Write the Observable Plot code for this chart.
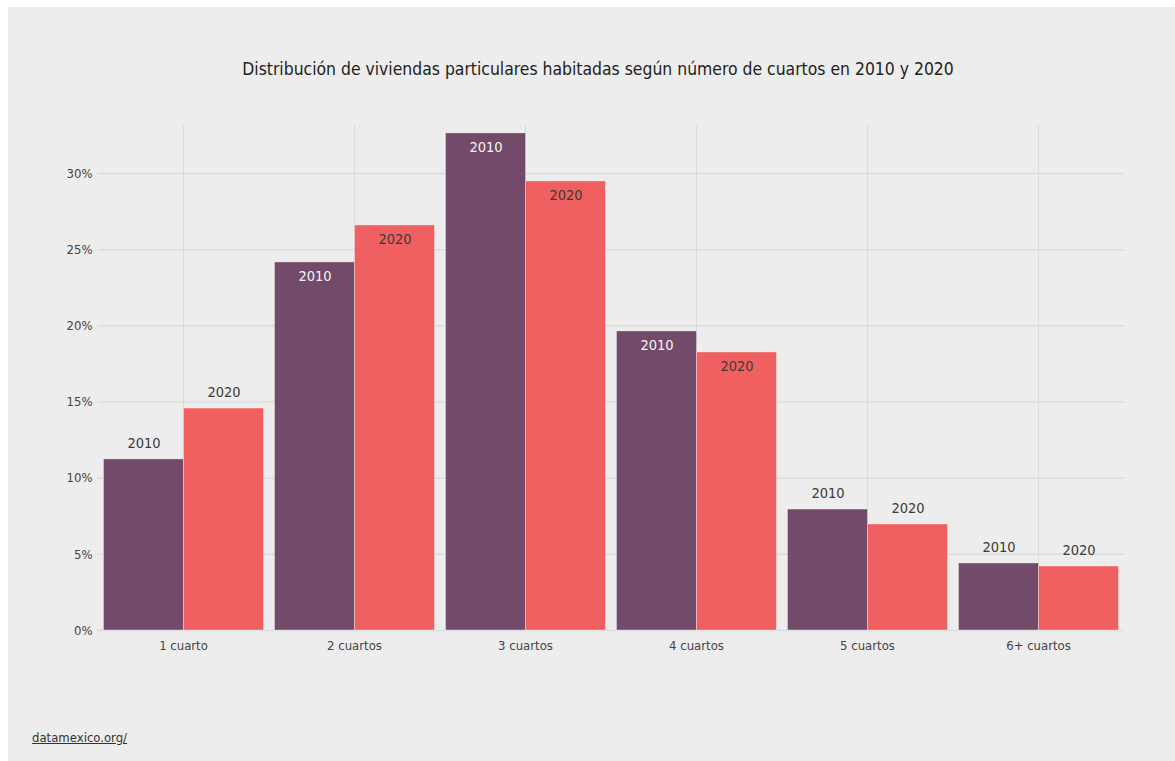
<!DOCTYPE html>
<html>
<head>
<meta charset="utf-8">
<script src="https://cdn.jsdelivr.net/npm/d3@7"></script>
<script src="https://cdn.jsdelivr.net/npm/@observablehq/plot@0.6"></script>
<style>
  html, body { margin: 0; padding: 0; background: #ffffff; width: 1175px; height: 761px; overflow: hidden; }
  #panel { position: absolute; left: 8px; top: 7px; width: 1167px; height: 754px; background: #ededed; }
  .cf { font-family: "Liberation Sans Narrow", "DejaVu Sans Condensed", "Roboto Condensed", "Roboto", sans-serif; font-stretch: condensed; }
  #title { position: absolute; left: 0; width: 1180px; top: 50px; line-height: 24px; text-align: center; font-size: 17.4px; color: #222; }
  #chart { position: absolute; left: 0; top: 100px; }
  #caption { position: absolute; left: 24px; top: 722px; line-height: 18px; font-size: 13px; color: #333; text-decoration: underline; }
</style>
</head>
<body>
<div id="panel">
  <div id="title" class="cf">Distribución de viviendas particulares habitadas según número de cuartos en 2010 y 2020</div>
  <div id="chart"></div>
  <div id="caption" class="cf">datamexico.org/</div>
</div>
<script>
const categories = ["1 cuarto", "2 cuartos", "3 cuartos", "4 cuartos", "5 cuartos", "6+ cuartos"];
const years = ["2010", "2020"];
const values2010 = [11.23, 24.16, 32.63, 19.63, 7.94, 4.40];
const values2020 = [14.57, 26.59, 29.48, 18.25, 6.96, 4.20];
const yTicks = [0, 5, 10, 15, 20, 25, 30];
const yearColors = ["#734a6a", "#f06060"];

const rows = [];
categories.forEach((c, i) => {
  rows.push({cat: c, year: years[0], value: values2010[i]});
  rows.push({cat: c, year: years[1], value: values2020[i]});
});
const inside = rows.filter(d => d.value >= 16);
const outside = rows.filter(d => d.value < 16);

const fontFamily = '"Liberation Sans Narrow", "DejaVu Sans Condensed", "Roboto Condensed", "Roboto", sans-serif';

const chart = Plot.plot({
  width: 1167,
  height: 560,
  marginLeft: 89.5,
  marginRight: 51.5,
  marginTop: 18,
  marginBottom: 37,
  style: {background: "transparent", fontFamily, fontSize: "13px", color: "#444", fontStretch: "condensed"},
  fx: {domain: categories, paddingInner: 0.064, paddingOuter: 0.032, label: null, tickSize: 0, tickPadding: 10, grid: true},
  x: {domain: years, axis: null, padding: 0},
  y: {domain: [0, 33.15], ticks: yTicks, tickFormat: d => d + "%", label: null, tickSize: 0, tickPadding: 11},
  color: {domain: years, range: yearColors},
  marks: [
    Plot.ruleY(yTicks, {stroke: "#dcdcdc", strokeWidth: 1.5, insetLeft: -5.5, insetRight: -5.5}),
    Plot.barY(rows, {fx: "cat", x: "year", y: "value", fill: "year", stroke: "#ffffff", strokeOpacity: 0.35, strokeWidth: 1}),
    Plot.text(inside, {fx: "cat", x: "year", y: "value", text: "year", dy: 14, fontSize: 14.5, fill: d => d.year === years[0] ? "#f4f4f4" : "#3a3a3a"}),
    Plot.text(outside, {fx: "cat", x: "year", y: "value", text: "year", dy: -16, fontSize: 14.5, fill: "#3a3a3a"})
  ]
});
document.getElementById("chart").appendChild(chart);
</script>
</body>
</html>
